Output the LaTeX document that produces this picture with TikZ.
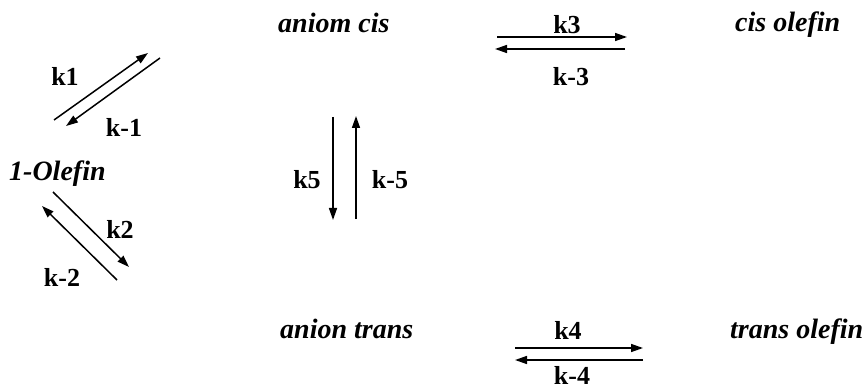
\documentclass[tikz,border=0pt]{standalone}
\usepackage{fontspec}
\setmainfont{Liberation Serif}
\usetikzlibrary{arrows.meta}

\begin{document}
\begin{tikzpicture}[
    x=1pt, y=-1pt,
    >={Triangle[length=12pt,width=8pt]},
    species/.style={inner sep=0pt, anchor=base west, font=\fontsize{28}{31}\selectfont\bfseries\itshape},
    rate/.style={inner sep=0pt, font=\fontsize{26}{29}\selectfont\bfseries},
    rxn/.style={->, line width=1.5pt}
]
    \useasboundingbox (0,0) rectangle (867,390);

    % species
    \node[species] (anioncis)    at (278,33)  {aniom cis};
    \node[species] (cisolefin)   at (735,32)  {cis olefin};
    \node[species] (olefin)      at (9,181)   {1-Olefin};
    \node[species] (aniontrans)  at (280,338) {anion trans};
    \node[species] (transolefin) at (730,338) {trans olefin};

    % k1 / k-1
    \coordinate (k1a) at (54,120);  \coordinate (k1b) at (148,53);
    \coordinate (km1a) at (160,58); \coordinate (km1b) at (66,126);
    \draw[rxn] (k1a) -- (k1b);
    \draw[rxn] (km1a) -- (km1b);
    \node[rate] (k1)  at (65,76)   {k1};
    \node[rate] (km1) at (124,127) {k-1};

    % k2 / k-2
    \coordinate (k2a) at (53,192);   \coordinate (k2b) at (129,267);
    \coordinate (km2a) at (117,280); \coordinate (km2b) at (42,206);
    \draw[rxn] (k2a) -- (k2b);
    \draw[rxn] (km2a) -- (km2b);
    \node[rate] (k2)  at (120,229) {k2};
    \node[rate] (km2) at (62,277)  {k-2};

    % k5 / k-5
    \coordinate (k5a) at (333,117);  \coordinate (k5b) at (333,220);
    \coordinate (km5a) at (356,219); \coordinate (km5b) at (356,116);
    \draw[rxn] (k5a) -- (k5b);
    \draw[rxn] (km5a) -- (km5b);
    \node[rate] (k5)  at (307,180) {k5};
    \node[rate] (km5) at (390,180) {k-5};

    % k3 / k-3
    \coordinate (k3a) at (497,37);  \coordinate (k3b) at (627,37);
    \coordinate (km3a) at (625,49); \coordinate (km3b) at (495,49);
    \draw[rxn] (k3a) -- (k3b);
    \draw[rxn] (km3a) -- (km3b);
    \node[rate] (k3)  at (567,25) {k3};
    \node[rate] (km3) at (571,77) {k-3};

    % k4 / k-4
    \coordinate (k4a) at (515,348);  \coordinate (k4b) at (643,348);
    \coordinate (km4a) at (643,360); \coordinate (km4b) at (515,360);
    \draw[rxn] (k4a) -- (k4b);
    \draw[rxn] (km4a) -- (km4b);
    \node[rate] (k4)  at (568,330) {k4};
    \node[rate] (km4) at (572,375) {k-4};
\end{tikzpicture}
\end{document}
